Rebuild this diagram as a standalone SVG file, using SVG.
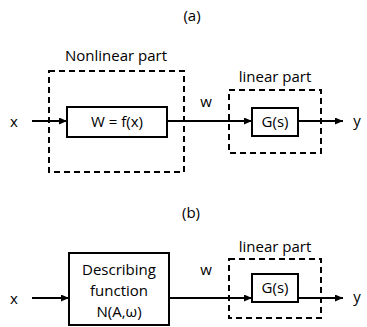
<svg xmlns="http://www.w3.org/2000/svg" width="367" height="327" viewBox="0 0 367 327">
  <style>
    text { font-family: "Open Sans", "Liberation Sans", sans-serif; font-size: 15px; fill: #000; }
    .mid { text-anchor: middle; }
    .block { fill: #fff; stroke: #000; stroke-width: 2; }
    .region { fill: none; stroke: #000; stroke-width: 2; stroke-dasharray: 6 4; }
    .wire { fill: none; stroke: #000; stroke-width: 2; marker-end: url(#arrow); }
  </style>
  <defs>
    <marker id="arrow" viewBox="0 0 10 10" refX="10" refY="5" markerWidth="8" markerHeight="7" markerUnits="userSpaceOnUse" orient="auto" preserveAspectRatio="none">
      <path d="M0,0 L10,5 L0,10 z" fill="#000"/>
    </marker>
  </defs>
  <rect width="367" height="327" fill="#fff"/>

  <!-- (a) -->
  <text class="mid" x="192" y="21">(a)</text>

  <g id="nonlinear-region">
    <rect class="region" x="49" y="71" width="135" height="101"/>
    <text class="mid" x="116" y="61">Nonlinear part</text>
  </g>
  <g id="linear-region-a">
    <rect class="region" x="229" y="90" width="92" height="63"/>
    <text class="mid" x="275" y="82">linear part</text>
  </g>

  <g id="connectors-a">
    <line class="wire" x1="32" y1="121" x2="67" y2="121"/>
    <line class="wire" x1="167" y1="121" x2="252" y2="121"/>
    <line class="wire" x1="298" y1="121" x2="343" y2="121"/>
  </g>

  <g id="input-a"><text class="mid" x="14" y="127">x</text></g>
  <g id="signal-w-a"><text class="mid" x="206" y="107">w</text></g>
  <g id="output-a"><text class="mid" x="357" y="126">y</text></g>

  <g id="nonlinearity">
    <rect class="block" x="67" y="107" width="100" height="30"/>
    <text class="mid" x="117" y="127">W = f(x)</text>
  </g>
  <g id="plant-a">
    <rect class="block" x="252" y="108" width="46" height="28"/>
    <text class="mid" x="275" y="127">G(s)</text>
  </g>

  <!-- (b) -->
  <text class="mid" x="191" y="218">(b)</text>

  <g id="linear-region-b">
    <rect class="region" x="229" y="259" width="92" height="59"/>
    <text class="mid" x="275" y="252">linear part</text>
  </g>

  <g id="connectors-b">
    <line class="wire" x1="32" y1="298" x2="69" y2="298"/>
    <line class="wire" x1="169" y1="298" x2="252" y2="298"/>
    <line class="wire" x1="298" y1="298" x2="343" y2="298"/>
  </g>

  <g id="input-b"><text class="mid" x="14" y="304">x</text></g>
  <g id="signal-w-b"><text class="mid" x="206" y="275">w</text></g>
  <g id="output-b"><text class="mid" x="357" y="302">y</text></g>

  <g id="describing-function">
    <rect class="block" x="69" y="253" width="100" height="72"/>
    <text class="mid" x="119" y="275">Describing</text>
    <text class="mid" x="119" y="296">function</text>
    <text class="mid" x="119" y="317">N(A,ω)</text>
  </g>
  <g id="plant-b">
    <rect class="block" x="252" y="274" width="46" height="28"/>
    <text class="mid" x="275" y="293">G(s)</text>
  </g>
</svg>
